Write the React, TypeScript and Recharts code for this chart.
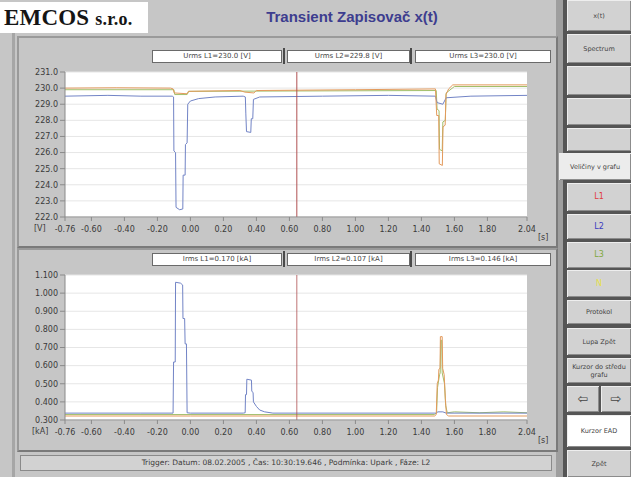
import React from 'react';
import { LineChart, Line, XAxis, YAxis, CartesianGrid, ReferenceLine } from 'recharts';

// ---------- axis ticks ----------
const timeTicks = [-0.76, -0.6, -0.4, -0.2, 0, 0.2, 0.4, 0.6, 0.8, 1.0, 1.2, 1.4, 1.6, 1.8, 2.04];
const voltageTicks = [222, 223, 224, 225, 226, 227, 228, 229, 230, 231];
const currentTicks = [0.3, 0.4, 0.5, 0.6, 0.7, 0.8, 0.9, 1.0, 1.1];
const cursorTime = 0.645;

// ---------- legend texts ----------
const voltageLegend = ['Urms L1=230.0 [V]', 'Urms L2=229.8 [V]', 'Urms L3=230.0 [V]'];
const currentLegend = ['Irms L1=0.170 [kA]', 'Irms L2=0.107 [kA]', 'Irms L3=0.146 [kA]'];

// ---------- voltage RMS series [time s, V] ----------
const uL1: [number, number][] = [
  [-0.76, 230.0], [-0.45, 230.02], [-0.12, 230.0], [-0.105, 229.95], [-0.098, 229.7], [-0.02, 229.65],
  [-0.012, 229.8], [0.3, 229.85], [0.33, 229.75], [0.385, 229.7], [0.4, 229.85], [1.0, 229.9],
  [1.485, 229.95], [1.493, 228.3], [1.505, 228.3], [1.508, 225.3], [1.527, 225.2], [1.531, 227.6],
  [1.544, 227.7], [1.549, 229.6], [1.565, 229.95], [1.59, 230.2], [2.04, 230.2],
];
const uL2: [number, number][] = [
  [-0.76, 229.5], [-0.5, 229.55], [-0.3, 229.5], [-0.11, 229.5], [-0.102, 229.45], [-0.1, 226.1],
  [-0.09, 226.0], [-0.087, 222.6], [-0.065, 222.45], [-0.046, 222.5], [-0.044, 224.6], [-0.032, 224.6],
  [-0.03, 226.5], [-0.02, 226.6], [-0.016, 229.0], [0.0, 229.2], [0.05, 229.35], [0.15, 229.45],
  [0.32, 229.5], [0.333, 229.45], [0.336, 228.4], [0.34, 227.3], [0.366, 227.25], [0.369, 228.1],
  [0.378, 228.1], [0.382, 229.3], [0.42, 229.45], [0.8, 229.5], [1.2, 229.55], [1.485, 229.5],
  [1.495, 229.1], [1.53, 229.0], [1.55, 229.4], [1.7, 229.5], [2.04, 229.55],
];
const uL3: [number, number][] = [
  [-0.76, 229.9], [-0.1, 229.9], [-0.095, 229.6], [-0.02, 229.6], [-0.01, 229.8], [1.49, 229.85],
  [1.495, 228.7], [1.507, 228.6], [1.51, 226.2], [1.526, 226.1], [1.53, 227.9], [1.545, 228.0],
  [1.55, 229.7], [1.6, 230.1], [2.04, 230.1],
];

// ---------- current RMS series [time s, kA] ----------
const iL1: [number, number][] = [
  [-0.76, 0.322], [0.0, 0.322], [1.48, 0.322], [1.49, 0.33], [1.496, 0.5], [1.503, 0.52], [1.506, 0.58],
  [1.513, 0.585], [1.515, 0.76], [1.526, 0.76], [1.529, 0.585], [1.538, 0.55], [1.545, 0.42],
  [1.552, 0.33], [1.565, 0.322], [2.04, 0.322],
];
const iL2: [number, number][] = [
  [-0.76, 0.338], [-0.3, 0.338], [-0.105, 0.338], [-0.102, 0.62], [-0.092, 0.62], [-0.09, 1.06],
  [-0.06, 1.055], [-0.047, 1.045], [-0.045, 0.86], [-0.035, 0.86], [-0.032, 0.72], [-0.024, 0.72],
  [-0.02, 0.34], [0.0, 0.338], [0.32, 0.338], [0.332, 0.34], [0.334, 0.44], [0.34, 0.44], [0.342, 0.525],
  [0.37, 0.52], [0.372, 0.46], [0.38, 0.45], [0.382, 0.4], [0.4, 0.375], [0.42, 0.355], [0.45, 0.345],
  [0.5, 0.338], [1.49, 0.338], [1.5, 0.345], [1.53, 0.345], [1.55, 0.338], [2.04, 0.338],
];
const iL3: [number, number][] = [
  [-0.76, 0.33], [1.48, 0.33], [1.492, 0.34], [1.498, 0.48], [1.51, 0.55], [1.514, 0.56], [1.517, 0.74],
  [1.523, 0.74], [1.526, 0.56], [1.54, 0.5], [1.547, 0.38], [1.557, 0.34], [1.6, 0.345], [1.75, 0.34],
  [1.9, 0.345], [2.04, 0.34],
];

// ---------- side buttons ----------
const sideButtons: { y: number; h: number; label: string; color?: string; bg?: string; x?: number; w?: number; fs?: number }[] = [
  { y: 0, h: 31, label: 'x(t)' },
  { y: 34, h: 29, label: 'Spectrum' },
  { y: 66, h: 29, label: '' },
  { y: 98, h: 27, label: '' },
  { y: 128, h: 23, label: '' },
  { y: 153, h: 27, label: 'Veličiny v grafu', bg: '#ececec', x: 559, w: 72 },
  { y: 183, h: 28, label: 'L1', color: '#e03c3c' },
  { y: 214, h: 25, label: 'L2', color: '#3c3cc0' },
  { y: 242, h: 26, label: 'L3', color: '#7fa83a' },
  { y: 270, h: 27, label: 'N', color: '#e6e04a' },
  { y: 300, h: 24, label: 'Protokol' },
  { y: 328, h: 27, label: 'Lupa Zpět' },
  { y: 358, h: 25, label: 'Kurzor do středu grafu' },
  { y: 386, h: 26, label: '⇦', x: 567, w: 32, fs: 13 },
  { y: 386, h: 26, label: '⇨', x: 601, w: 30, fs: 13 },
  { y: 415, h: 32, label: 'Kurzor EAD', bg: '#ffffff' },
  { y: 450, h: 27, label: 'Zpět' },
];

const statusText = 'Trigger:  Datum: 08.02.2005 ,  Čas: 10:30:19.646 ,  Podmínka: Upark ,  Fáze: L2';

const toPts = (a: [number, number][]) => a.map(([t, v]) => ({ t, v }));

const COL_L1 = '#e39a5c';
const COL_L2 = '#7284c6';
const COL_L3 = '#a2bf6a';
const COL_CURSOR = '#b05052';

const tickStyle = { fontSize: 8, fontFamily: '"DejaVu Sans", sans-serif', fill: '#3a3a3a' };

const abs = (s: React.CSSProperties): React.CSSProperties => ({ position: 'absolute', ...s });

function LegendRow({ top, labels }: { top: number; labels: string[] }) {
  const boxes = [[152, 128], [287, 121], [415, 134]];
  return (
    <>
      {boxes.map(([x, w], i) => (
        <div key={i} style={abs({ left: x, top, width: w, height: 11, background: '#fff', border: '1px solid #6a6a6a', fontSize: 7, color: '#454545', textAlign: 'center', lineHeight: '11px', whiteSpace: 'nowrap', overflow: 'hidden' })}>
          {labels[i]}
        </div>
      ))}
      <div style={abs({ left: 283, top: top - 2, width: 2, height: 16, background: '#4a4a4a' })} />
      <div style={abs({ left: 410, top: top - 2, width: 2, height: 16, background: '#4a4a4a' })} />
    </>
  );
}

export default function App() {
  const fmtT = (v: number) => v.toFixed(2);
  return (
    <div style={abs({ left: 0, top: 0, width: 631, height: 477, background: '#c6c6c6', overflow: 'hidden', fontFamily: '"DejaVu Sans", sans-serif' })}>
      {/* left band */}
      <div style={abs({ left: 12, top: 33, width: 3, height: 444, background: '#a6a6a6' })} />
      {/* separator band to buttons */}
      <div style={abs({ left: 556, top: 0, width: 7, height: 477, background: '#9e9e9e' })} />
      {/* header */}
      <div style={abs({ left: 0, top: 2, width: 148, height: 31, background: '#ffffff' })}>
        <span style={abs({ left: 4, top: 3, fontFamily: '"Liberation Serif", serif', fontWeight: 700, fontSize: 23, color: '#151515', whiteSpace: 'nowrap', letterSpacing: 0.2 })}>
          EMCOS <span style={{ fontSize: 18 }}>s.r.o.</span>
        </span>
      </div>
      <div style={abs({ left: 148, top: 0, width: 408, height: 33, textAlign: 'center', lineHeight: '33px', fontFamily: '"Liberation Sans", Arial, sans-serif', fontWeight: 700, fontSize: 15, color: '#3d3d8f', whiteSpace: 'nowrap' })}>
        Transient Zapisovač x(t)
      </div>

      {/* panels */}
      <div style={abs({ left: 17, top: 36, width: 537, height: 208, border: '2px solid #9a9a9a', borderRightColor: '#7a7a7a', borderBottomColor: '#7a7a7a' })} />
      <div style={abs({ left: 17, top: 248, width: 537, height: 200, border: '2px solid #9a9a9a', borderRightColor: '#7a7a7a', borderBottomColor: '#7a7a7a' })} />

      <LegendRow top={50} labels={voltageLegend} />
      <LegendRow top={253} labels={currentLegend} />

      {/* voltage chart */}
      <div style={abs({ left: 0, top: 0 })}>
        <LineChart width={560} height={245} margin={{ top: 72, right: 33, bottom: 0, left: 0 }}>
          <CartesianGrid vertical={false} stroke="#e6e6e6" fill="#ffffff" />
          <XAxis type="number" dataKey="t" domain={[-0.76, 2.04]} ticks={timeTicks} tickFormatter={fmtT} allowDataOverflow
            height={28} tick={tickStyle} tickSize={4} tickMargin={5} stroke="#8a8a8a" interval={0} />
          <YAxis type="number" domain={[222, 231]} ticks={voltageTicks} tickFormatter={(v: number) => v.toFixed(1)} allowDataOverflow
            width={65} tick={tickStyle} tickSize={5} tickMargin={2} stroke="#8a8a8a" interval={0} />
          <Line data={toPts(uL3)} dataKey="v" stroke={COL_L3} strokeWidth={1} dot={false} isAnimationActive={false} />
          <Line data={toPts(uL2)} dataKey="v" stroke={COL_L2} strokeWidth={1} dot={false} isAnimationActive={false} />
          <Line data={toPts(uL1)} dataKey="v" stroke={COL_L1} strokeWidth={1} dot={false} isAnimationActive={false} />
          <ReferenceLine x={cursorTime} stroke={COL_CURSOR} strokeWidth={1} />
        </LineChart>
      </div>
      <div style={abs({ left: 34, top: 224, fontSize: 8, color: '#3a3a3a' })}>[V]</div>
      <div style={abs({ left: 538, top: 233, fontSize: 8, color: '#3a3a3a' })}>[s]</div>

      {/* current chart */}
      <div style={abs({ left: 0, top: 248 })}>
        <LineChart width={560} height={202} margin={{ top: 27, right: 33, bottom: 0, left: 0 }}>
          <CartesianGrid vertical={false} stroke="#e6e6e6" fill="#ffffff" />
          <XAxis type="number" dataKey="t" domain={[-0.76, 2.04]} ticks={timeTicks} tickFormatter={fmtT} allowDataOverflow
            height={30} tick={tickStyle} tickSize={4} tickMargin={5} stroke="#8a8a8a" interval={0} />
          <YAxis type="number" domain={[0.3, 1.1]} ticks={currentTicks} tickFormatter={(v: number) => v.toFixed(3)} allowDataOverflow
            width={65} tick={tickStyle} tickSize={5} tickMargin={2} stroke="#8a8a8a" interval={0} />
          <Line data={toPts(iL3)} dataKey="v" stroke={COL_L3} strokeWidth={1} dot={false} isAnimationActive={false} />
          <Line data={toPts(iL2)} dataKey="v" stroke={COL_L2} strokeWidth={1} dot={false} isAnimationActive={false} />
          <Line data={toPts(iL1)} dataKey="v" stroke={COL_L1} strokeWidth={1} dot={false} isAnimationActive={false} />
          <ReferenceLine x={cursorTime} stroke={COL_CURSOR} strokeWidth={1} strokeOpacity={0.8} />
        </LineChart>
      </div>
      <div style={abs({ left: 32, top: 427, fontSize: 8, color: '#3a3a3a' })}>[kA]</div>
      <div style={abs({ left: 538, top: 436, fontSize: 8, color: '#3a3a3a' })}>[s]</div>

      {/* status bar */}
      <div style={abs({ left: 20, top: 455, width: 530, height: 14, background: '#d2d2d2', border: '1px solid #8a8a8a', fontSize: 7.5, color: '#3a3a3a', textAlign: 'center', lineHeight: '14px', whiteSpace: 'nowrap' })}>
        {statusText}
      </div>

      {/* side buttons */}
      <div style={abs({ left: 563, top: 0, width: 68, height: 477, background: '#555555' })} />
      {sideButtons.map((b, i) => (
        <div key={i} style={abs({ left: b.x ?? 567, top: b.y, width: b.w ?? 64, height: b.h, background: b.bg ?? '#d2d2d2', boxShadow: 'inset 1px 1px 0 #eeeeee, inset -1px -1px 0 #8c8c8c', display: 'flex', alignItems: 'center', justifyContent: 'center', textAlign: 'center', fontSize: b.fs ?? (b.label.length > 2 ? 6.5 : 8), color: b.color ?? '#444444', lineHeight: b.fs ? '14px' : '8px', padding: '0 2px', boxSizing: 'border-box' })}>
          {b.label}
        </div>
      ))}
    </div>
  );
}
